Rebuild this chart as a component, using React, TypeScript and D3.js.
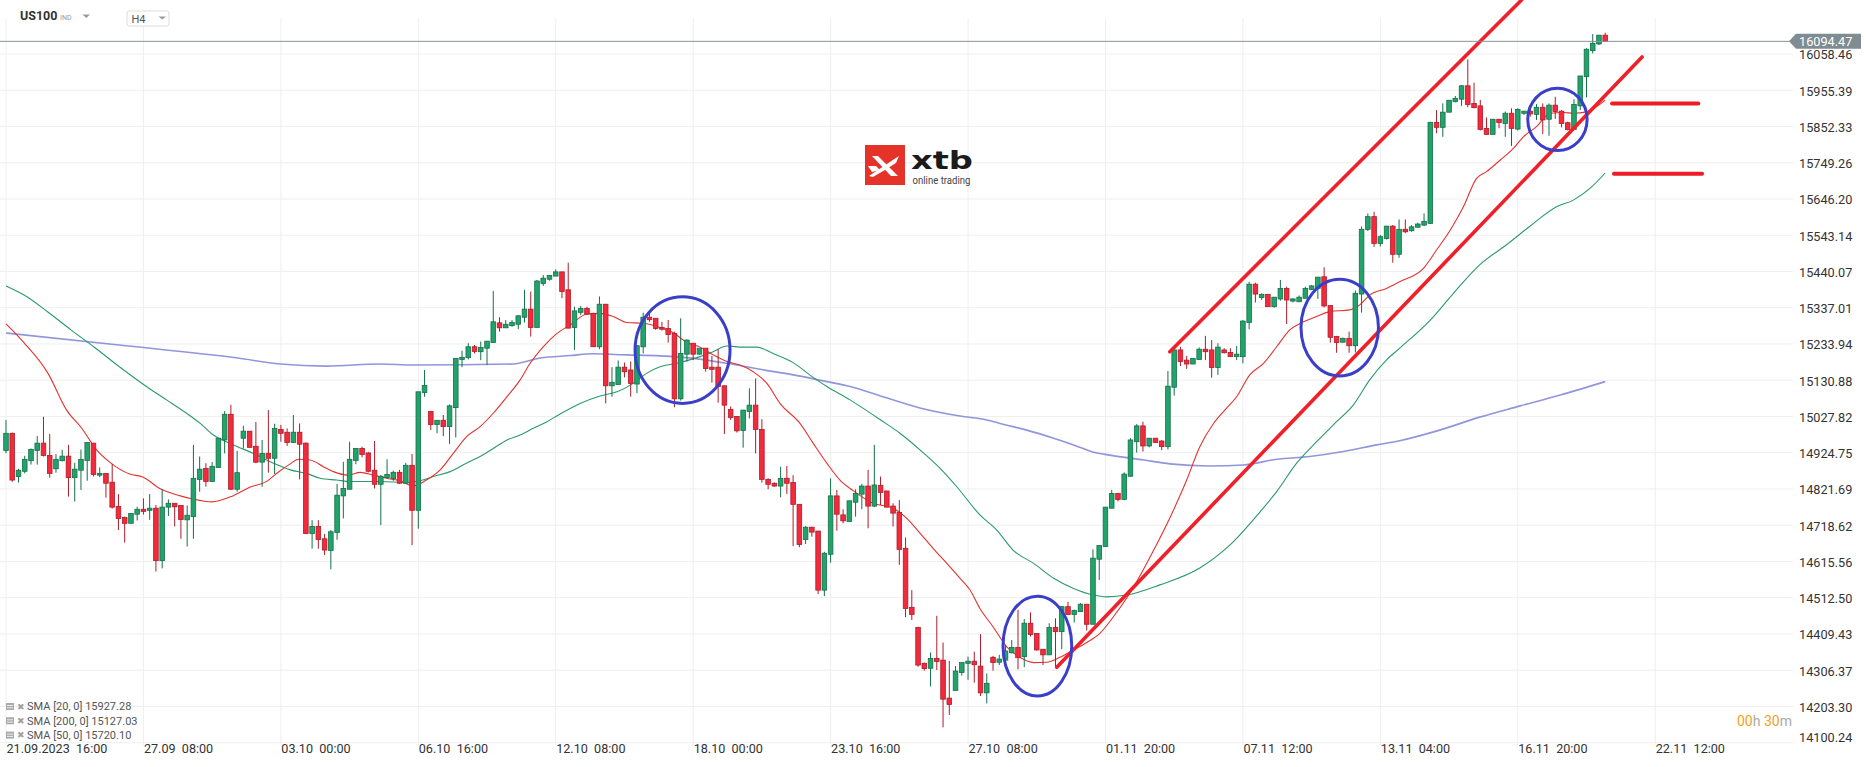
import React from 'react';
import * as d3 from 'd3';

const W = 1866;
const H = 767;

// [open, high, low, close] per H4 candle, starting 21.09.2023 16:00
const ohlc: [number, number, number, number][] = [
  [14931,15018,14923,14980],[14980,14982,14842,14847],[14857,14879,14840,14875],[14872,14916,14866,14906],
  [14902,14937,14891,14934],[14931,14972,14891,14952],[14952,15027,14914,14917],[14917,14978,14854,14866],
  [14879,14921,14868,14906],[14902,14933,14900,14915],[14915,14947,14800,14854],[14854,14896,14786,14878],
  [14875,14934,14819,14906],[14903,14954,14845,14954],[14952,14952,14857,14863],[14861,14883,14855,14866],
  [14866,14866,14797,14838],[14841,14893,14766,14770],[14772,14807,14705,14738],[14741,14743,14669,14724],
  [14724,14752,14724,14752],[14750,14771,14732,14764],[14764,14795,14749,14758],[14761,14807,14734,14767],
  [14767,14776,14587,14618],[14618,14821,14596,14770],[14770,14792,14745,14781],[14781,14781,14715,14771],
  [14775,14775,14680,14735],[14734,14775,14658,14747],[14743,14947,14680,14852],[14849,14914,14814,14878],
  [14880,14895,14828,14843],[14843,14898,14843,14886],[14883,14966,14883,14966],[14961,15043,14923,15034],
  [15034,15061,14819,14821],[14821,14930,14814,14868],[14966,15001,14937,14986],[14986,14986,14940,14940],
  [14943,15012,14895,14898],[14898,14961,14828,14923],[14923,15046,14868,14909],[14909,15007,14864,14994],
  [14991,15004,14956,14980],[14983,14994,14944,14954],[14954,15032,14954,14983],[14983,15008,14849,14949],
  [14952,14954,14693,14695],[14695,14733,14652,14715],[14715,14733,14652,14678],[14680,14694,14634,14648],
  [14647,14705,14593,14700],[14698,14836,14677,14804],[14802,14899,14738,14823],[14821,14956,14821,14906],
  [14903,14937,14892,14937],[14937,14942,14912,14920],[14924,14927,14869,14872],[14875,14958,14823,14835],
  [14835,14861,14719,14858],[14854,14906,14852,14863],[14851,14874,14845,14869],[14869,14876,14836,14838],
  [14838,14896,14836,14889],[14889,14921,14662,14761],[14761,15098,14709,15098],[15096,15160,15084,15116],
  [15042,15042,14989,15005],[15005,15017,14980,15017],[15017,15032,14972,14999],[14999,15062,14950,15058],
  [15053,15193,14968,15193],[15190,15215,15168,15196],[15195,15236,15190,15226],[15226,15231,15207,15213],
  [15212,15241,15188,15224],[15222,15242,15174,15242],[15238,15385,15238,15297],[15294,15310,15269,15280],
  [15280,15302,15279,15290],[15286,15302,15283,15295],[15290,15316,15276,15314],[15310,15388,15295,15333],
  [15333,15383,15255,15281],[15281,15416,15281,15413],[15406,15430,15399,15421],[15418,15430,15414,15429],
  [15427,15446,15427,15439],[15439,15439,15364,15383],[15388,15465,15279,15279],[15281,15340,15217,15328],
  [15324,15342,15316,15335],[15335,15340,15316,15319],[15321,15323,15226,15226],[15226,15369,15219,15347],
  [15347,15347,15065,15115],[15115,15168,15084,15125],[15119,15187,15119,15168],[15168,15181,15139,15155],
  [15160,15184,15084,15122],[15120,15231,15094,15229],[15226,15323,15207,15310],[15310,15321,15297,15303],
  [15307,15307,15274,15278],[15281,15297,15272,15276],[15278,15302,15238,15261],[15264,15269,15054,15078],
  [15078,15307,15073,15207],[15205,15247,15184,15245],[15236,15236,15188,15205],[15205,15222,15203,15222],
  [15222,15222,15155,15164],[15168,15200,15124,15162],[15168,15219,15067,15113],[15115,15115,14978,15060],
  [15048,15056,15018,15025],[15028,15028,14982,14987],[14988,15046,14939,15046],[15042,15108,15022,15060],
  [15060,15136,14923,14991],[14991,15020,14840,14849],[14849,14852,14821,14835],[14838,14840,14828,14830],
  [14830,14885,14798,14852],[14852,14887,14807,14838],[14840,14861,14659,14778],[14778,14778,14656,14664],
  [14678,14716,14665,14713],[14713,14714,14686,14699],[14702,14702,14523,14534],[14534,14643,14517,14639],
  [14636,14852,14612,14802],[14802,14819,14703,14750],[14748,14764,14724,14731],[14729,14788,14729,14788],
  [14784,14821,14743,14809],[14807,14836,14764,14830],[14830,14876,14710,14773],[14773,14947,14770,14833],
  [14832,14857,14776,14812],[14816,14816,14770,14770],[14773,14781,14715,14753],[14755,14790,14606,14650],
  [14653,14684,14457,14482],[14485,14534,14449,14465],[14428,14430,14316,14321],[14326,14328,14305,14311],
  [14312,14357,14260,14340],[14340,14461,14307,14331],[14335,14385,14144,14224],[14227,14333,14179,14209],
  [14249,14318,14249,14304],[14300,14328,14291,14328],[14326,14345,14279,14332],[14332,14359,14271,14322],
  [14318,14409,14233,14242],[14242,14297,14212,14269],[14343,14347,14305,14328],[14329,14350,14321,14338],
  [14335,14378,14333,14361],[14356,14392,14354,14371],[14371,14478,14309,14342],[14345,14452,14315,14440],
  [14440,14471,14402,14408],[14411,14411,14362,14364],[14366,14366,14321,14350],[14350,14440,14350,14428],
  [14428,14454,14316,14416],[14416,14489,14366,14487],[14487,14501,14463,14465],[14465,14479,14442,14476],
  [14473,14497,14473,14494],[14494,14494,14419,14437],[14437,14650,14437,14625],[14622,14661,14563,14661],
  [14658,14770,14658,14770],[14767,14819,14767,14809],[14809,14809,14786,14792],[14792,14869,14790,14864],
  [14858,14966,14857,14961],[14956,15006,14925,15001],[15001,15013,14928,14944],[14944,14966,14940,14966],
  [14966,14966,14953,14954],[14958,14961,14932,14942],[14942,15157,14934,15114],[15111,15220,15087,15217],
  [15217,15226,15171,15184],[15188,15200,15163,15177],[15177,15193,15177,15193],[15190,15224,15190,15219],
  [15219,15257,15188,15212],[15217,15245,15138,15167],[15167,15236,15146,15225],[15217,15222,15207,15209],
  [15210,15222,15198,15198],[15198,15228,15188,15205],[15198,15302,15179,15299],[15295,15411,15276,15404],
  [15404,15408,15352,15376],[15366,15378,15359,15375],[15375,15375,15340,15340],[15340,15367,15337,15367],
  [15362,15416,15357,15392],[15392,15397,15291,15359],[15356,15364,15352,15362],[15354,15372,15354,15367],
  [15364,15397,15364,15392],[15389,15402,15388,15399],[15392,15424,15362,15424],[15425,15452,15338,15342],
  [15343,15343,15238,15253],[15255,15257,15209,15238],[15239,15252,15238,15250],[15250,15269,15209,15229],
  [15229,15386,15210,15378],[15376,15568,15323,15560],[15560,15605,15555,15596],[15596,15610,15510,15520],
  [15520,15544,15511,15539],[15534,15569,15531,15569],[15569,15572,15465,15489],[15489,15588,15479,15560],
  [15560,15588,15549,15553],[15556,15572,15553,15567],[15566,15579,15564,15575],[15572,15605,15569,15582],
  [15577,15866,15575,15864],[15864,15899,15833,15850],[15850,15918,15823,15893],[15893,15927,15893,15927],
  [15923,15939,15921,15932],[15930,15970,15911,15968],[15968,16043,15907,15915],[15918,15977,15904,15906],
  [15911,15928,15841,15844],[15847,15878,15828,15830],[15830,15873,15830,15873],[15873,15873,15847,15864],
  [15861,15895,15823,15890],[15890,15904,15797,15847],[15845,15904,15841,15901],[15890,15896,15885,15896],
  [15896,15901,15880,15888],[15887,15916,15871,15907],[15907,15918,15831,15871],[15873,15918,15826,15913],
  [15913,15937,15874,15895],[15896,15899,15850,15861],[15863,15866,15841,15844],[15844,15930,15842,15915],
  [15911,15996,15899,15996],[15994,16075,15935,16072],[16068,16115,16060,16089],[16087,16112,16084,16112],
  [16112,16119,16094,16094.47],
];

// moving averages: [candle index, value]
const sma20: [number, number][] = [
  [0,15291],[2.9,15237],[6.7,15151],[9.7,15046],[12.1,14995],[14.5,14933],[16.6,14898],[19.8,14864],
  [21.9,14856],[24.7,14822],[27.9,14802],[29.9,14793],[33,14785],[36.3,14802],[39.1,14827],[41.8,14844],
  [43.4,14867],[45.5,14893],[46.8,14906],[48.7,14904],[50.8,14885],[52.4,14871],[54.8,14861],[56.7,14869],
  [58.8,14861],[60.9,14852],[63.1,14845],[65.2,14830],[67.3,14847],[69.5,14876],[71.6,14923],[73.7,14970],
  [75.9,14999],[78,15037],[80.2,15084],[82.3,15132],[83.9,15179],[86,15226],[88.2,15264],[90.3,15288],
  [93,15319],[95.1,15321],[97.2,15312],[99.4,15295],[102,15293],[104.7,15281],[106.8,15266],[109,15238],
  [111.1,15225],[113.2,15203],[115.4,15184],[117.5,15174],[119.6,15155],[121.8,15122],[123.9,15065],
  [127.1,15008],[129.2,14952],[131.4,14895],[133.5,14847],[135.6,14817],[138.8,14781],[142,14767],
  [144.2,14738],[146.3,14696],[148.4,14653],[150.6,14610],[152.7,14568],[154.3,14535],[155.9,14482],
  [158,14430],[160.2,14373],[162.3,14343],[164.5,14328],[166.6,14329],[168.7,14343],[170.9,14364],
  [173,14385],[175.1,14411],[177.3,14459],[179.9,14525],[183.5,14640],[186.9,14762],[189,14847],
  [191.1,14942],[193.3,15008],[195.1,15046],[197,15084],[199.1,15146],[201.3,15179],[203.4,15226],
  [205.5,15274],[207.7,15297],[209.8,15312],[211.9,15326],[215.1,15331],[216.7,15345],[218.3,15373],
  [221,15392],[223.1,15411],[226.9,15449],[229,15501],[231.2,15558],[233.3,15624],[235.4,15705],
  [237,15724],[239.2,15757],[241.3,15790],[242.9,15823],[245,15852],[247.2,15890],[249.3,15892],
  [250.9,15890],[253,15894],[256,15927.28],
];
const sma50: [number, number][] = [
  [0,15399],[2.9,15373],[6.7,15325],[10.4,15274],[14.2,15224],[18.1,15170],[23.3,15103],[25.7,15075],
  [28.9,15037],[31.1,15008],[33.2,14975],[36.4,14947],[39.6,14923],[42.8,14895],[45.5,14876],[48.1,14866],
  [50.3,14852],[52.9,14847],[55.1,14843],[59.9,14843],[64.1,14840],[66.3,14845],[68.4,14857],[71.1,14871],
  [73.7,14895],[75.9,14914],[78,14937],[80.2,14961],[82.3,14975],[84.4,14994],[86.6,15013],[88.7,15035],
  [91.9,15065],[95.1,15086],[97.8,15098],[100.4,15122],[102.6,15151],[104.7,15169],[107.4,15179],
  [111.1,15198],[113.2,15212],[115.4,15228],[118,15225],[120.2,15225],[122.8,15207],[126,15181],
  [129.2,15139],[131.4,15113],[135.1,15075],[140,15018],[143.1,14980],[146.3,14933],[149.5,14881],
  [152.2,14828],[155.9,14748],[158.6,14705],[161.2,14648],[164.5,14610],[167.7,14568],[170.9,14539],
  [174.1,14520],[176.2,14515],[179.4,14520],[184.7,14549],[191.1,14597],[195.9,14662],[201,14762],
  [203.4,14814],[206.6,14895],[209.8,14956],[213,15013],[215.7,15061],[218.3,15132],[221,15189],
  [223.1,15222],[228,15302],[231.7,15378],[235.9,15459],[240.2,15516],[243.9,15568],[248.2,15624],
  [250.9,15643],[253.6,15677],[256,15720.10],
];
const sma200: [number, number][] = [
  [0,15265],[18.1,15231],[37.1,15194],[43.9,15177],[51.3,15171],[59.9,15177],[65.2,15174],[81.2,15177],
  [85.5,15194],[90.3,15201],[94,15206],[99.4,15203],[104.7,15200],[110,15193],[115.4,15179],[120.7,15162],
  [126,15146],[131.4,15127],[135.1,15113],[140,15086],[146.3,15052],[152.7,15029],[157,15018],[159.1,15008],
  [163.4,14989],[167.7,14966],[170.9,14947],[174.1,14926],[176.7,14918],[182.1,14904],[186.3,14893],
  [192.7,14887],[198.1,14890],[203.4,14906],[208.7,14914],[214.1,14928],[219.4,14947],[223.1,14959],
  [229.5,14989],[235.9,15026],[242.4,15058],[248.8,15089],[256,15127.03],
];

const priceTicks = [
  "16058.46","15955.39","15852.33","15749.26","15646.20","15543.14","15440.07","15337.01","15233.94",
  "15130.88","15027.82","14924.75","14821.69","14718.62","14615.56","14512.50","14409.43","14306.37",
  "14203.30","14100.24",
];
const timeLabels = [
  "21.09.2023  16:00","27.09  08:00","03.10  00:00","06.10  16:00","12.10  08:00","18.10  00:00",
  "23.10  16:00","27.10  08:00","01.11  20:00","07.11  12:00","13.11  04:00","16.11  20:00","22.11  12:00",
];
const candlesPerLabel = 22;
const lastPrice = 16094.47;
const legendNames = ["SMA [20, 0]", "SMA [200, 0]", "SMA [50, 0]"];
const legendValues = ["15927.28", "15127.03", "15720.10"];

// drawn annotations in data space
const trendLines: [number, number, number, number][] = [
  [186.3, 15212, 242.6, 16212],
  [168.2, 14315, 261.9, 16050],
];
const levelLines: [number, number, number][] = [
  [257.1, 270.9, 15918],
  [257.4, 271.5, 15718],
];
const circles: [number, number, number, number][] = [
  [100.7, 115.9, 15368, 15065],
  [159.6, 170.6, 14517, 14233],
  [207.3, 219.7, 15418, 15143],
  [243.6, 253.1, 15961, 15784],
];

const FONT = 'Roboto, "Noto Sans", sans-serif';

export default function App() {
  const x = d3.scaleLinear().domain([0, 264]).range([6, 1655.2]);
  const y = d3.scaleLinear().domain([14100.24, 16058.46]).range([742.7, 54]);
  const line = d3
    .line<[number, number]>()
    .x((d) => x(d[0]))
    .y((d) => y(d[1]))
    .curve(d3.curveMonotoneX);

  const bw = 4.6;
  const upFill = '#22a36c', upStroke = '#137049';
  const dnFill = '#f42a3c', dnStroke = '#ad1c2a';
  const gridColor = '#efefef';
  const plotRight = 1793;

  return (
    <div style={{ position: 'absolute', left: 0, top: 0 }}>
      <svg width={W} height={H} style={{ display: 'block', background: '#fff' }} fontFamily={FONT}>
        {/* horizontal grid */}
        {priceTicks.map((t) => (
          <line key={'hg' + t} x1={0} x2={plotRight} y1={y(+t)} y2={y(+t)} stroke={gridColor} strokeWidth={1} />
        ))}
        {/* vertical grid */}
        {timeLabels.map((t, k) => (
          <line key={'vg' + k} x1={x(k * candlesPerLabel)} x2={x(k * candlesPerLabel)} y1={18} y2={745} stroke={gridColor} strokeWidth={1} />
        ))}

        {/* logo */}
        <g>
          <rect x={865} y={145} width={40} height={40} fill="#e5332a" />
          <path d="M872,156 L878,156 L898,176 L891,176 Z" fill="#fff" />
          <path d="M869,176 C878,170 888,163 899,156 L896,163 C888,168 880,173 873,177 Z" fill="#fff" />
          <path d="M868,166 L876,166 L880,170 L872,172 Z" fill="#fff" />
          <text x={911} y={168.5} fontSize={25} fontWeight={900} fill="#1b1b1b" textLength={62} lengthAdjust="spacingAndGlyphs" fontFamily='"DejaVu Sans", sans-serif'>xtb</text>
          <text x={912.5} y={184} fontSize={10} fill="#444" textLength={58} lengthAdjust="spacingAndGlyphs">online trading</text>
        </g>

        {/* SMA lines */}
        <path d={line(sma200) || ''} fill="none" stroke="#7c82d6" strokeWidth={1.6} strokeOpacity={0.85} />
        <path d={line(sma50) || ''} fill="none" stroke="#2a9a6c" strokeWidth={1.1} />
        <path d={line(sma20) || ''} fill="none" stroke="#e5322f" strokeWidth={1.1} />

        {/* candles */}
        {ohlc.map(([o, h, l, c], i) => {
          const up = c >= o;
          const cx = x(i);
          const top = y(Math.max(o, c));
          const bot = y(Math.min(o, c));
          return (
            <g key={'c' + i}>
              <line x1={cx} x2={cx} y1={y(h)} y2={y(l)} stroke={up ? upStroke : dnStroke} strokeWidth={1} />
              <rect
                x={cx - bw / 2}
                y={top}
                width={bw}
                height={Math.max(1.2, bot - top)}
                fill={up ? upFill : dnFill}
                stroke={up ? upStroke : dnStroke}
                strokeWidth={0.8}
              />
            </g>
          );
        })}

        {/* trend lines */}
        {trendLines.map(([i0, p0, i1, p1], k) => (
          <line key={'tl' + k} x1={x(i0)} y1={y(p0)} x2={x(i1)} y2={y(p1)} stroke="#f01f28" strokeWidth={3.6} strokeLinecap="round" />
        ))}
        {levelLines.map(([i0, i1, p], k) => (
          <line key={'ll' + k} x1={x(i0)} y1={y(p)} x2={x(i1)} y2={y(p)} stroke="#ee1c26" strokeWidth={4} strokeLinecap="round" />
        ))}
        {circles.map(([i0, i1, pt, pb], k) => (
          <ellipse
            key={'el' + k}
            cx={(x(i0) + x(i1)) / 2}
            cy={(y(pt) + y(pb)) / 2}
            rx={(x(i1) - x(i0)) / 2}
            ry={(y(pb) - y(pt)) / 2}
            fill="none"
            stroke="#3a3fca"
            strokeWidth={3}
          />
        ))}

        {/* last price line */}
        <line x1={0} x2={1790} y1={y(lastPrice)} y2={y(lastPrice)} stroke="#86939a" strokeWidth={1} />

        {/* right axis labels */}
        {priceTicks.map((t) => (
          <text key={'pt' + t} x={1799} y={Math.min(y(+t), 737) + 2} fontSize={12.7} fill="#333" dominantBaseline="middle">{t}</text>
        ))}
        <path
          d={`M1789,${y(lastPrice)} L1796,${y(lastPrice) - 7.5} L1861,${y(lastPrice) - 7.5} L1861,${y(lastPrice) + 7.5} L1796,${y(lastPrice) + 7.5} Z`}
          fill="#7f8c91"
        />
        <text x={1799} y={y(lastPrice) + 1.5} fontSize={12.7} fill="#fff" dominantBaseline="middle">{lastPrice.toFixed(2)}</text>

        {/* time labels */}
        {timeLabels.map((t, k) => (
          <text key={'tx' + k} x={x(k * candlesPerLabel) + 0.5} y={750} fontSize={12.6} fill="#333" dominantBaseline="middle" style={{ whiteSpace: 'pre' }}>{t}</text>
        ))}

        {/* countdown */}
        <text x={1737} y={722} fontSize={14} dominantBaseline="middle">
          <tspan fill="#f5a01a">00</tspan>
          <tspan fill="#aaa">h </tspan>
          <tspan fill="#f5a01a">30</tspan>
          <tspan fill="#aaa">m</tspan>
        </text>

        {/* legend */}
        {legendNames.map((n, k) => {
          const ly = 707 + k * 14.3;
          return (
            <g key={'lg' + k}>
              <rect x={6} y={ly - 4} width={8} height={7} fill="#a9a9a9" />
              <line x1={7} x2={13} y1={ly - 1.5} y2={ly - 1.5} stroke="#fff" strokeWidth={0.8} />
              <line x1={7} x2={13} y1={ly + 0.8} y2={ly + 0.8} stroke="#fff" strokeWidth={0.8} />
              <text x={16.5} y={ly + 0.5} fontSize={9} fill="#a0a0a0" dominantBaseline="middle">✖</text>
              <text x={27} y={ly + 0.5} fontSize={11} fill="#555" dominantBaseline="middle">{n + ' ' + legendValues[k]}</text>
            </g>
          );
        })}

        {/* header */}
        <text x={20} y={20} fontSize={12.5} fontWeight={700} fill="#333">US100</text>
        <text x={60} y={19.5} fontSize={7} fill="#999">IND</text>
        <path d="M82.5,14.5 L90,14.5 L86.25,18 Z" fill="#999" />
        <rect x={127} y={11} width={42} height={15} rx={2} fill="#fff" stroke="#ddd" strokeWidth={1} />
        <text x={131.5} y={22.5} fontSize={11} fill="#555">H4</text>
        <path d="M158.5,16.5 L166,16.5 L162.25,19.5 Z" fill="#999" />
      </svg>
    </div>
  );
}
